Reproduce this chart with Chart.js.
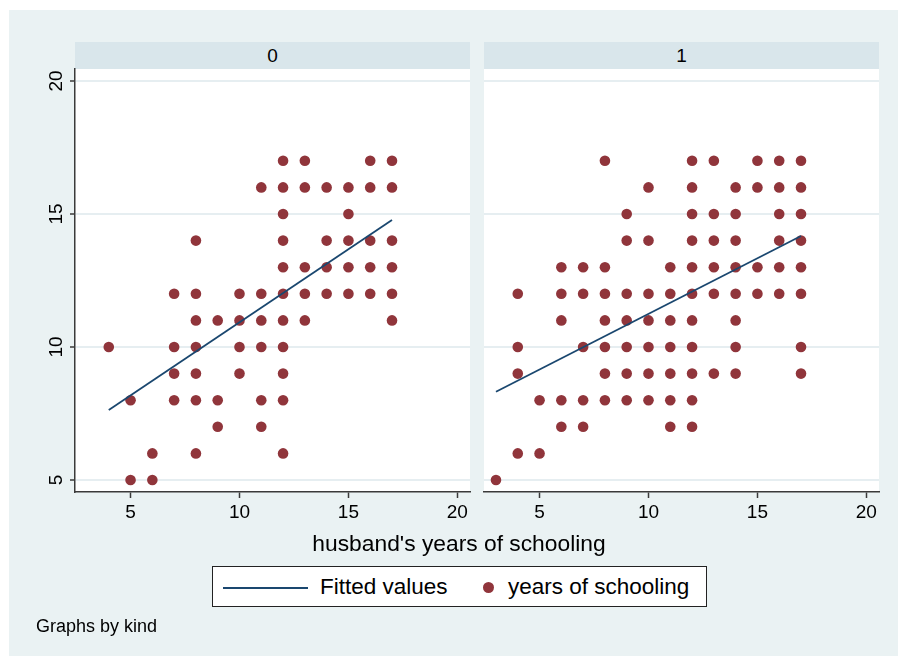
<!DOCTYPE html>
<html>
<head>
<meta charset="utf-8">
<script src="https://cdn.jsdelivr.net/npm/chart.js@4.4.1/dist/chart.umd.min.js"></script>
<style>
  html, body { margin: 0; padding: 0; background: #ffffff; }
  #page { position: relative; width: 898px; height: 657px; overflow: hidden;
          font-family: "Liberation Sans", Arial, sans-serif; color: #000; }
  #bg { position: absolute; left: 9px; top: 10px; right: 0; bottom: 1px; background: #EAF2F3; }
  .strip { position: absolute; top: 42px; height: 27px; width: 395px; background: #D9E6EB;
           text-align: center; line-height: 27px; font-size: 19px; }
  canvas { position: absolute; left: 0; top: 0; }
  #xtitle { position: absolute; left: 159px; width: 600px; top: 532px; height: 22px;
            line-height: 22px; font-size: 22.8px; text-align: center; white-space: nowrap; }
  #legend { position: absolute; left: 212px; top: 566px; width: 493px; height: 39px;
            background: #fff; border: 1px solid #222; }
  #legend .swatch-line { position: absolute; left: 10px; top: 20px; width: 85px; height: 2px; background: #1A476F; }
  #legend .swatch-dot { position: absolute; left: 270px; top: 15px; width: 11px; height: 11px;
                        border-radius: 50%; background: #90353B; }
  #legend .lbl { position: absolute; top: 9px; height: 22px; line-height: 22px; font-size: 22.5px; white-space: nowrap; }
  #note { position: absolute; left: 36px; top: 617px; height: 18px; line-height: 18px; font-size: 18px; white-space: nowrap; }
</style>
</head>
<body>
<div id="page">
  <div id="bg"></div>
  <div class="strip" style="left:75px">0</div>
  <div class="strip" style="left:484px">1</div>
  <canvas id="panel0" width="898" height="657"></canvas>
  <canvas id="panel1" width="898" height="657"></canvas>
  <div id="xtitle">husband's years of schooling</div>
  <div id="legend">
    <div class="swatch-line"></div>
    <div class="lbl" style="left:107px">Fitted values</div>
    <div class="swatch-dot"></div>
    <div class="lbl" style="left:295px">years of schooling</div>
  </div>
  <div id="note">Graphs by kind</div>
</div>
<script>
// Panel titles (values of "kind")
const panelKinds = ['0', '1'];

// Axis ticks
const xTicks = [5, 10, 15, 20];
const yTicks = [5, 10, 15, 20];

// kind = 0: husband's years of schooling and the wife's years observed at each
const husbandYears0 = [4, 5, 6, 7, 8, 9, 10, 11, 12, 13, 14, 15, 16, 17];
const wifeYears0 = [
  [10],
  [8, 5],
  [6, 5],
  [12, 10, 9, 8],
  [14, 12, 11, 10, 9, 8, 6],
  [11, 8, 7],
  [12, 11, 10, 9],
  [16, 12, 11, 10, 8, 7],
  [17, 16, 15, 14, 13, 12, 11, 10, 9, 8, 6],
  [17, 16, 13, 12, 11],
  [16, 14, 13, 12],
  [16, 15, 14, 13, 12],
  [17, 16, 14, 13, 12],
  [17, 16, 14, 13, 12, 11]
];

// kind = 1
const husbandYears1 = [3, 4, 5, 6, 7, 8, 9, 10, 11, 12, 13, 14, 15, 16, 17];
const wifeYears1 = [
  [5],
  [12, 10, 9, 6],
  [8, 6],
  [13, 12, 11, 8, 7],
  [13, 12, 10, 8, 7],
  [17, 13, 12, 11, 10, 9, 8],
  [15, 14, 12, 11, 10, 9, 8],
  [16, 14, 12, 11, 10, 9, 8],
  [13, 12, 11, 10, 9, 8, 7],
  [17, 16, 15, 14, 13, 12, 11, 10, 9, 8, 7],
  [17, 15, 14, 13, 12, 9],
  [16, 15, 14, 13, 12, 11, 10, 9],
  [17, 16, 13, 12],
  [17, 16, 15, 14, 13, 12],
  [17, 16, 15, 14, 13, 12, 10, 9]
];

// Fitted values (linear fit) at the ends of each panel's data range
const fitX0 = [4, 17];
const fitY0 = [7.63, 14.77];
const fitX1 = [3, 17];
const fitY1 = [8.32, 14.17];

// Axis ranges
const xRange = [2.45, 20.58];
const yRange = [4.55, 20.45];

const NAVY = '#1A476F';
const MAROON = '#90353B';
const AXIS = '#3A3A3A';
const GRID = '#E6EEF1';
const FONT = '"Liberation Sans", Arial, sans-serif';

function scatterPoints(xs, groups) {
  const pts = [];
  xs.forEach((x, i) => groups[i].forEach(y => pts.push({ x: x, y: y })));
  return pts;
}
function linePoints(xs, ys) {
  return xs.map((x, i) => ({ x: x, y: ys[i] }));
}

// White plot region behind the marks
const plotFill = {
  id: 'plotFill',
  beforeDraw(chart) {
    const a = chart.chartArea, c = chart.ctx;
    c.save();
    c.fillStyle = '#ffffff';
    c.fillRect(a.left, a.top, a.right - a.left, a.bottom - a.top);
    c.restore();
  }
};

function makePanel(canvasId, xs, groups, fx, fy, showY, pad) {
  return new Chart(document.getElementById(canvasId), {
    type: 'scatter',
    data: {
      datasets: [
        {
          type: 'line',
          label: 'Fitted values',
          data: linePoints(fx, fy),
          borderColor: NAVY,
          borderWidth: 1.8,
          pointRadius: 0,
          fill: false,
          tension: 0,
          order: 0
        },
        {
          type: 'scatter',
          label: 'years of schooling',
          data: scatterPoints(xs, groups),
          backgroundColor: MAROON,
          borderWidth: 0,
          pointRadius: 5.3,
          order: 1
        }
      ]
    },
    options: {
      responsive: false,
      animation: false,
      events: [],
      layout: { padding: pad },
      plugins: { legend: { display: false }, tooltip: { enabled: false } },
      scales: {
        x: {
          type: 'linear',
          min: xRange[0],
          max: xRange[1],
          afterBuildTicks: s => { s.ticks = xTicks.map(v => ({ value: v })); },
          afterFit: s => { s.height = 40; },
          grid: { drawOnChartArea: false, drawTicks: true, tickLength: 6, tickColor: AXIS, tickWidth: 1.5, color: AXIS },
          border: { display: true, color: AXIS, width: 1.5 },
          ticks: { color: '#000', padding: 3, maxRotation: 0, font: { family: FONT, size: 19 } }
        },
        y: {
          type: 'linear',
          min: yRange[0],
          max: yRange[1],
          afterBuildTicks: s => { s.ticks = yTicks.map(v => ({ value: v })); },
          afterFit: s => { s.width = showY ? 40 : 0; },
          grid: {
            drawOnChartArea: true, color: GRID, lineWidth: 2,
            drawTicks: showY, tickLength: 5, tickColor: AXIS, tickWidth: 1.5
          },
          border: { display: showY, color: AXIS, width: 1.5 },
          ticks: {
            display: showY, color: '#000', padding: 3,
            minRotation: 90, maxRotation: 90, crossAlign: 'center',
            font: { family: FONT, size: 19 }
          }
        }
      }
    },
    plugins: [plotFill]
  });
}

makePanel('panel0', husbandYears0, wifeYears0, fitX0, fitY0, true,
          { left: 35, top: 69, right: 428, bottom: 125 });
makePanel('panel1', husbandYears1, wifeYears1, fitX1, fitY1, false,
          { left: 484, top: 69, right: 19, bottom: 125 });
</script>
</body>
</html>
